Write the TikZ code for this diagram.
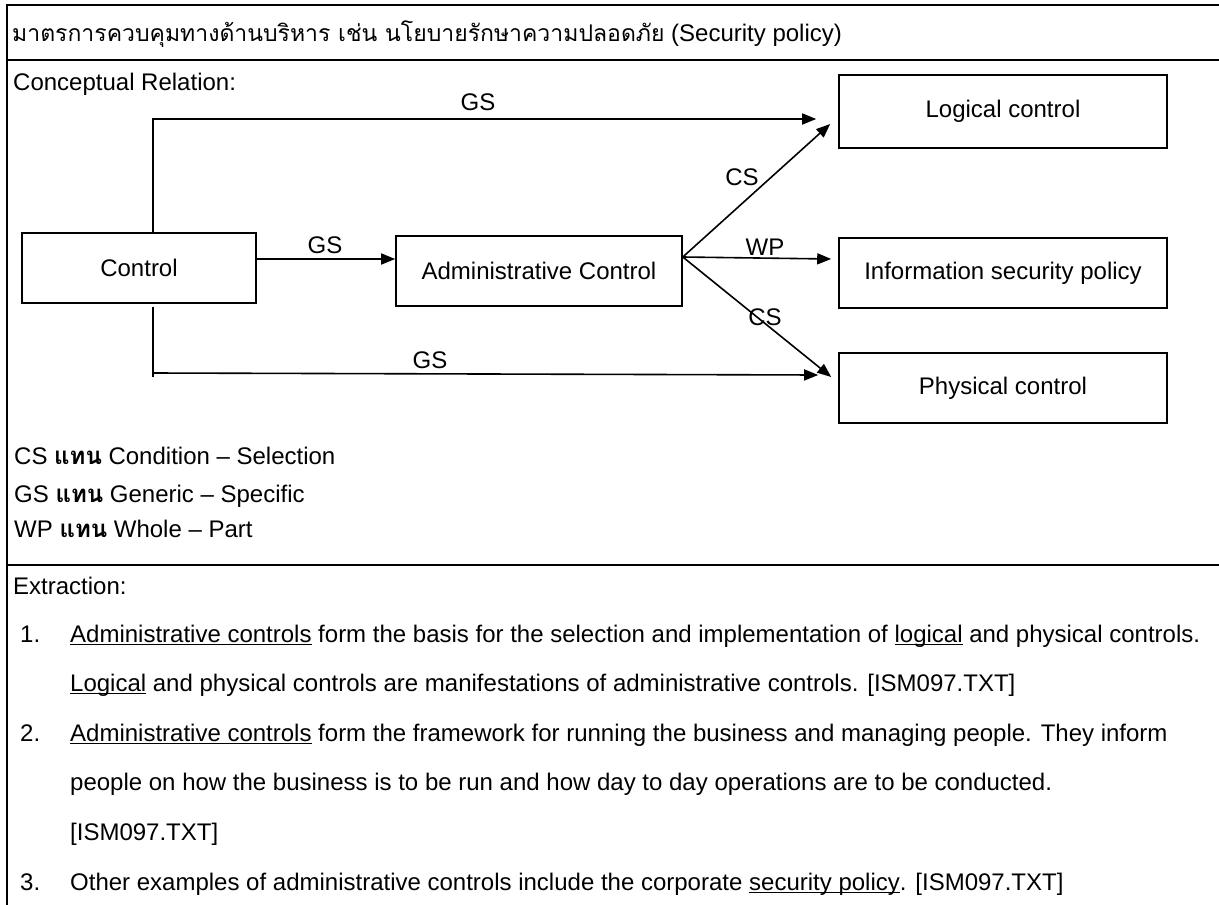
\documentclass[tikz,border=0pt]{standalone}
\usepackage{fontspec}
\setmainfont{Liberation Sans}
\newfontfamily\thaifont[Script=Thai]{Loma}
\usetikzlibrary{arrows.meta}
% underline at a fixed depth below the baseline
\newcommand\ulx[1]{\setbox0\hbox{#1}\rlap{\rule[-3.4pt]{\wd0}{1.3pt}}\box0\relax}

\begin{document}
\begin{tikzpicture}[x=1pt,y=-1pt,
  every node/.style={font=\fontsize{24}{28}\selectfont, inner sep=0pt},
  box/.style={draw, line width=1.6pt, minimum height=70pt},
  conn/.style={line width=1.6pt, -{Triangle[length=14pt,width=11pt]}},
  plain/.style={line width=1.6pt},
  frame/.style={line width=2.2pt},
  txt/.style={anchor=base west}]

\useasboundingbox (0,0) rectangle (1219,905);

% table frame
\draw[frame] (7,5) -- (1219,5);
\draw[frame] (7,60) -- (1219,60);
\draw[frame] (7,565) -- (1219,565);
\draw[frame] (7,4) -- (7,905);

% header row
\node[txt] (title) at (12,41) {{\thaifont\fontsize{23}{28}\selectfont มาตรการควบคุมทางด้านบริหาร เช่น นโยบายรักษาความปลอดภัย} (Security policy)};
\node[txt] (concept) at (13,90) {Conceptual Relation:};

% concept boxes
\node[box, minimum width=234pt] (control) at (139,268) {Control};
\node[box, minimum width=286pt] (admin) at (539,271) {Administrative Control};
\node[box, minimum width=328pt, minimum height=73pt] (logical) at (1003,111.5) {Logical control};
\node[box, minimum width=328pt] (info) at (1003,273) {Information security policy};
\node[box, minimum width=328pt] (physical) at (1003,388) {Physical control};

% relations
\coordinate (fan) at ([yshift=14pt]admin.east);
\coordinate (bl) at (153,373);
\draw[conn] ([yshift=9pt]control.east) -- ([yshift=12pt]admin.west);
\draw[conn] ([xshift=14pt]control.north) |- ([xshift=-22pt,yshift=-7.5pt]logical.west);
\draw[plain] ([xshift=14pt,yshift=-3pt]control.south) -- ([yshift=-4pt]bl);
\draw[conn] (bl) -- ([xshift=-20pt,yshift=13pt]physical.west);
\draw[conn] (fan) -- ([xshift=-8pt,yshift=-12.5pt]logical.west);
\draw[conn] (fan) -- ([xshift=-7pt,yshift=14pt]info.west);
\draw[conn] (fan) -- ([xshift=-7pt,yshift=11pt]physical.west);

% relation labels
\node (gstop) at (478,102) {GS};
\node (gsmid) at (325,245) {GS};
\node (gsbot) at (430,360) {GS};
\node (csup) at (742,177) {CS};
\node (wp) at (765,247) {WP};
\node (cslow) at (765,317) {CS};

% legend
\node[txt] (lgcs) at (14,464) {CS {\thaifont\bfseries แทน} Condition – Selection};
\node[txt] (lggs) at (14,502) {GS {\thaifont\bfseries แทน} Generic – Specific};
\node[txt] (lgwp) at (14,537) {WP {\thaifont\bfseries แทน} Whole – Part};

% extraction
\node[txt] (extr) at (13,594) {Extraction:};
\node[txt] (n1) at (20,642) {1.};
\node[txt] (e1a) at (70,642) {\ulx{Administrative controls} form the basis for the selection and implementation of \ulx{logical} and physical controls.};
\node[txt] (e1b) at (70,691) {\ulx{Logical} and physical controls are manifestations of administrative controls. [ISM097.TXT]};
\node[txt] (n2) at (20,741) {2.};
\node[txt] (e2a) at (70,741) {\ulx{Administrative controls} form the framework for running the business and managing people. They inform};
\node[txt] (e2b) at (70,790) {people on how the business is to be run and how day to day operations are to be conducted.};
\node[txt] (e2c) at (70,840) {[ISM097.TXT]};
\node[txt] (n3) at (20,890) {3.};
\node[txt] (e3a) at (70,890) {Other examples of administrative controls include the corporate \ulx{security policy}. [ISM097.TXT]};
\end{tikzpicture}
\end{document}
